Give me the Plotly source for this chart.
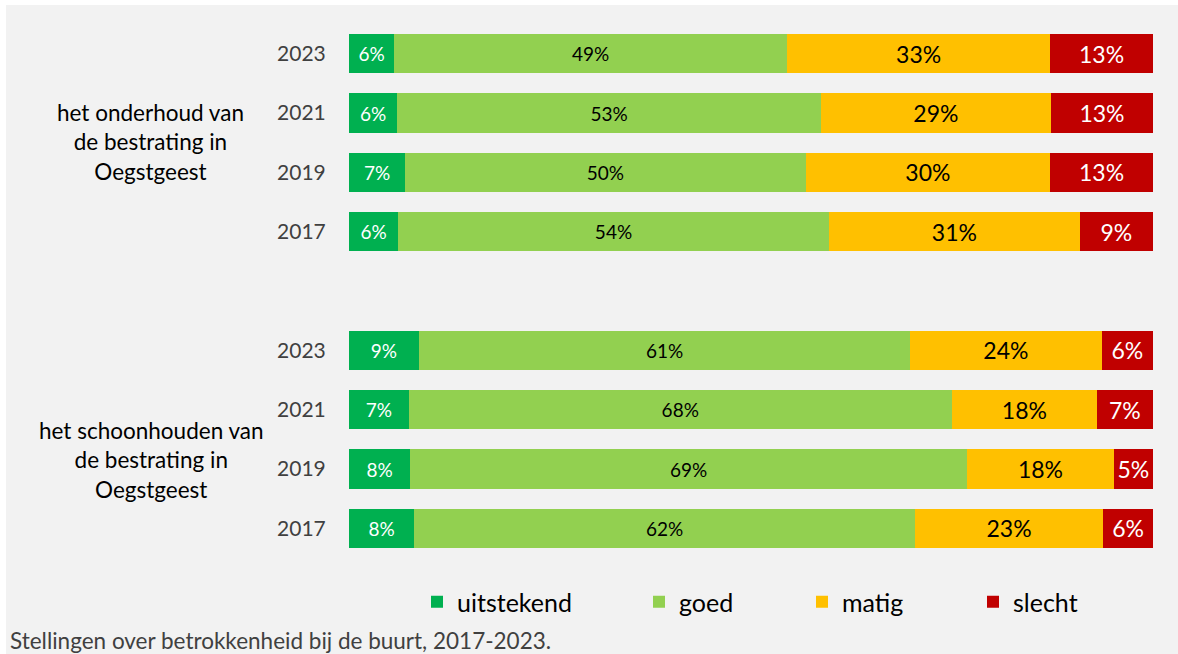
import plotly.graph_objects as go

# ---------------- data ----------------
groups = ["het onderhoud van<br>de bestrating in<br>Oegstgeest",
          "het schoonhouden van<br>de bestrating in<br>Oegstgeest"]
years = ["2023", "2021", "2019", "2017"]
series = ["uitstekend", "goed", "matig", "slecht"]

onderhoud_uitstekend = [5.6, 6.0, 7.0, 6.1]
onderhoud_goed = [48.9, 52.7, 49.8, 53.6]
onderhoud_matig = [32.7, 28.6, 30.4, 31.2]
onderhoud_slecht = [12.8, 12.7, 12.8, 9.1]

schoon_uitstekend = [8.7, 7.4, 7.6, 8.1]
schoon_goed = [61.1, 67.6, 69.3, 62.3]
schoon_matig = [23.8, 18.0, 18.2, 23.4]
schoon_slecht = [6.4, 7.0, 4.9, 6.2]

caption = "Stellingen over betrokkenheid bij de buurt, 2017-2023."

# ---------------- styles ----------------
colors = {"uitstekend": "#00B050", "goed": "#92D050", "matig": "#FFC000", "slecht": "#C00000"}
label_colors = {"uitstekend": "white", "goed": "black", "matig": "black", "slecht": "white"}
label_sizes = {"uitstekend": 19, "goed": 19, "matig": 23, "slecht": 23}
FONT = "Lato, 'Open Sans', sans-serif"

# build category keys (with an empty slot between the two groups)
keys1 = ["A|" + y for y in years]
keys2 = ["B|" + y for y in years]
gap_key = "gap"
all_keys = keys1 + [gap_key] + keys2
tick_text = years + [""] + years

data = {
    "uitstekend": onderhoud_uitstekend + [None] + schoon_uitstekend,
    "goed": onderhoud_goed + [None] + schoon_goed,
    "matig": onderhoud_matig + [None] + schoon_matig,
    "slecht": onderhoud_slecht + [None] + schoon_slecht,
}

# layout geometry (pixels)
W, H = 1178, 654
ML, MR, MT, MB = 349, 25, 24, 96
PW, PH = W - ML - MR, H - MT - MB


def px_x(p):
    return (p - ML) / PW


def px_y(p):
    return (H - MB - p) / PH


fig = go.Figure()
legend_names = ["legend", "legend2", "legend3", "legend4"]
legend_text_px = [458, 680, 843, 1014]
for s, lg in zip(series, legend_names):
    fig.add_trace(go.Bar(
        name=s, orientation="h", y=all_keys, x=data[s],
        marker=dict(color=colors[s], line=dict(width=0)),
        texttemplate="%{x:.0f}%", textposition="inside",
        insidetextanchor="middle", textangle=0,
        insidetextfont=dict(family=FONT, size=label_sizes[s], color=label_colors[s]),
        hoverinfo="skip", legend=lg, width=0.66,
    ))

legend_layouts = {}
for lg, tx in zip(legend_names, legend_text_px):
    legend_layouts[lg] = dict(
        x=px_x(tx - 41), xanchor="left", y=px_y(602), yanchor="middle",
        orientation="h", bgcolor="rgba(0,0,0,0)", borderwidth=0,
        font=dict(family=FONT, size=25, color="black"),
        itemclick=False, itemdoubleclick=False,
    )

fig.update_layout(
    width=W, height=H,
    margin=dict(l=ML, r=MR, t=MT, b=MB),
    barmode="stack",
    paper_bgcolor="white",
    plot_bgcolor="rgba(0,0,0,0)",
    showlegend=True,
    uniformtext=dict(mode=False),
    **legend_layouts,
    xaxis=dict(range=[0, 100], visible=False, fixedrange=True),
    yaxis=dict(
        type="category", categoryorder="array", categoryarray=all_keys,
        range=[len(all_keys) - 0.5, -0.5],
        tickmode="array", tickvals=all_keys, ticktext=tick_text,
        tickfont=dict(family=FONT, size=21, color="#404040"),
        ticks="outside", ticklen=18, tickcolor="rgba(0,0,0,0)",
        showgrid=False, zeroline=False, showline=False, fixedrange=True,
    ),
    shapes=[dict(
        type="rect", xref="paper", yref="paper", layer="below",
        x0=px_x(6), x1=px_x(W + 5), y0=px_y(5), y1=px_y(H + 5),
        fillcolor="#F2F2F2", line=dict(width=0),
    )],
    annotations=[
        dict(text=groups[0], xref="paper", yref="paper", x=px_x(150), y=px_y(142),
             xanchor="center", yanchor="middle", showarrow=False, align="center",
             font=dict(family=FONT, size=22.5, color="black")),
        dict(text=groups[1], xref="paper", yref="paper", x=px_x(151), y=px_y(460),
             xanchor="center", yanchor="middle", showarrow=False, align="center",
             font=dict(family=FONT, size=22.5, color="black")),
        dict(text=caption, xref="paper", yref="paper", x=px_x(8), y=px_y(640),
             xanchor="left", yanchor="middle", showarrow=False, align="left",
             font=dict(family=FONT, size=22.5, color="#404040")),
    ],
)

fig.write_html("out.html", config={"displayModeBar": False})
